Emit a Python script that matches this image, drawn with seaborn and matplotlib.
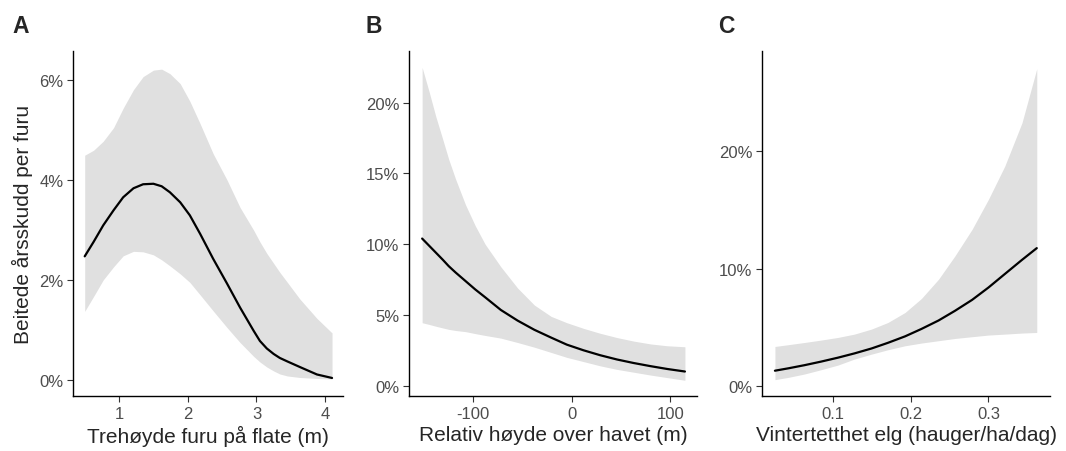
import pandas as pd
import numpy as np
import seaborn as sns
import matplotlib.pyplot as plt
from matplotlib.ticker import FuncFormatter

# Panel A: tree height on plot (m) vs browsed annual shoots per pine (%)
a_x = [0.50, 0.63, 0.77, 0.92, 1.06, 1.21, 1.35, 1.50, 1.62, 1.74, 1.89, 2.03, 2.18,
       2.37, 2.57, 2.76, 2.96, 3.05, 3.15, 3.25, 3.34, 3.45, 3.63, 3.88, 4.10]
a_fit = [2.47, 2.76, 3.09, 3.39, 3.65, 3.83, 3.91, 3.92, 3.87, 3.75, 3.55, 3.29, 2.92,
         2.42, 1.93, 1.45, 0.98, 0.78, 0.63, 0.52, 0.44, 0.37, 0.26, 0.11, 0.04]
a_hi = [4.49, 4.59, 4.77, 5.04, 5.43, 5.80, 6.06, 6.19, 6.21, 6.12, 5.92, 5.57, 5.12,
        4.52, 4.00, 3.45, 2.99, 2.76, 2.53, 2.33, 2.15, 1.95, 1.62, 1.23, 0.94]
a_lo = [1.37, 1.67, 2.00, 2.26, 2.48, 2.57, 2.56, 2.50, 2.40, 2.28, 2.12, 1.95, 1.70,
        1.38, 1.05, 0.75, 0.47, 0.36, 0.26, 0.18, 0.12, 0.08, 0.05, 0.03, 0.02]

# Panel B: relative altitude (m)
b_x = [-152, -145, -138, -131, -125, -118, -108, -98, -88, -72, -55, -38, -21, -5,
       12, 29, 46, 63, 80, 97, 115]
b_fit = [10.4, 9.9, 9.4, 8.9, 8.45, 8.0, 7.4, 6.8, 6.25, 5.35, 4.6, 3.95, 3.4, 2.9,
         2.5, 2.15, 1.85, 1.6, 1.38, 1.18, 1.0]
b_hi = [22.5, 20.8, 19.0, 17.4, 16.0, 14.6, 12.8, 11.3, 10.0, 8.4, 6.9, 5.7, 4.9, 4.45,
        4.05, 3.7, 3.4, 3.15, 2.95, 2.82, 2.75]
b_lo = [4.45, 4.33, 4.2, 4.08, 3.98, 3.9, 3.82, 3.68, 3.55, 3.36, 3.05, 2.72, 2.35, 2.0,
        1.7, 1.4, 1.15, 0.95, 0.75, 0.57, 0.38]

# Panel C: winter moose density (pellet groups/ha/day)
c_x = [0.026, 0.043, 0.064, 0.085, 0.107, 0.128, 0.150, 0.171, 0.193, 0.214, 0.236,
       0.257, 0.279, 0.300, 0.321, 0.343, 0.362]
c_fit = [1.33, 1.53, 1.80, 2.10, 2.44, 2.80, 3.22, 3.70, 4.25, 4.88, 5.60, 6.42, 7.35,
         8.40, 9.55, 10.75, 11.75]
c_hi = [3.39, 3.54, 3.73, 3.93, 4.16, 4.44, 4.87, 5.43, 6.28, 7.47, 9.11, 11.09, 13.35,
        15.90, 18.73, 22.40, 27.0]
c_lo = [0.57, 0.76, 1.05, 1.41, 1.81, 2.32, 2.74, 3.11, 3.45, 3.68, 3.88, 4.07, 4.22,
        4.36, 4.44, 4.53, 4.58]

sns.set_style("ticks")
plt.rcParams['font.family'] = ['Liberation Sans', 'DejaVu Sans']

fig = plt.figure(figsize=(10.66, 4.52), dpi=100)

panels = [
    dict(x=a_x, fit=a_fit, hi=a_hi, lo=a_lo, letter="A", lx=0.0113,
         xlabel="Trehøyde furu på flate (m)", xlim=(0.33, 4.26), ylim=(-0.32, 6.57),
         xticks=[1, 2, 3, 4], yticks=[0, 2, 4, 6], xfmt="{:.0f}",
         pos=[0.0685, 0.1217, 0.2533, 0.763]),
    dict(x=b_x, fit=b_fit, hi=b_hi, lo=b_lo, letter="B", lx=0.3433,
         xlabel="Relativ høyde over havet (m)", xlim=(-165, 127), ylim=(-0.73, 23.65),
         xticks=[-100, 0, 100], yticks=[0, 5, 10, 15, 20], xfmt="{:.0f}",
         pos=[0.384, 0.1217, 0.2696, 0.763]),
    dict(x=c_x, fit=c_fit, hi=c_hi, lo=c_lo, letter="C", lx=0.6735,
         xlabel="Vintertetthet elg (hauger/ha/dag)", xlim=(0.0098, 0.379), ylim=(-0.82, 28.5),
         xticks=[0.1, 0.2, 0.3], yticks=[0, 10, 20], xfmt="{:.1f}",
         pos=[0.7151, 0.1217, 0.2699, 0.763]),
]

for i, p in enumerate(panels):
    ax = fig.add_axes(p["pos"])
    df = pd.DataFrame({"x": p["x"], "fit": p["fit"], "lo": p["lo"], "hi": p["hi"]})
    # confidence band + fitted line
    ax.fill_between(df["x"], df["lo"], df["hi"], color="#E0E0E0", linewidth=0, zorder=1)
    sns.lineplot(data=df, x="x", y="fit", ax=ax, color="black", linewidth=1.6, zorder=2)
    ax.set_xlim(*p["xlim"])
    ax.set_ylim(*p["ylim"])
    ax.set_xticks(p["xticks"])
    ax.set_yticks(p["yticks"])
    fmt = p["xfmt"]
    ax.xaxis.set_major_formatter(FuncFormatter(lambda v, pos, f=fmt: f.format(v)))
    ax.yaxis.set_major_formatter(FuncFormatter(lambda v, pos: f"{v:.0f}%"))
    ax.tick_params(axis="both", labelsize=12, labelcolor="#4D4D4D", color="#333333",
                   length=4, width=0.8, pad=3)
    for s in ["left", "bottom"]:
        ax.spines[s].set_linewidth(1.0)
        ax.spines[s].set_color("black")
    sns.despine(ax=ax)
    ax.set_xlabel(p["xlabel"], fontsize=15, labelpad=3)
    ax.set_ylabel("Beitede årsskudd per furu" if i == 0 else "", fontsize=15, labelpad=4)
    fig.text(p["lx"], 0.942, p["letter"], fontsize=16.5, fontweight="bold",
             ha="left", va="center")

fig.savefig("out.png", dpi=100)
